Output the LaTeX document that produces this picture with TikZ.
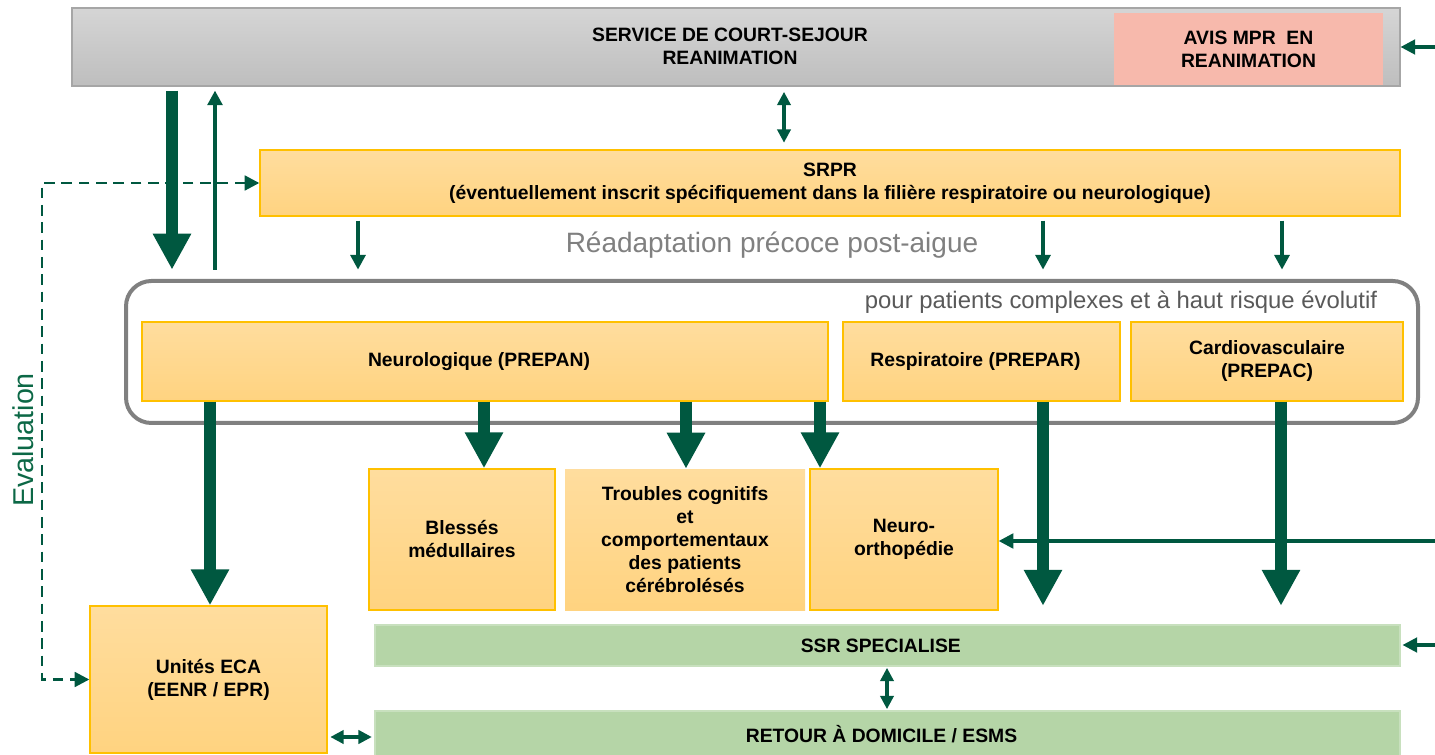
\documentclass[tikz,border=0pt]{standalone}
\usepackage{fontspec}
\setmainfont{Liberation Sans}
\usetikzlibrary{arrows.meta}
\definecolor{dg}{RGB}{0,88,64}
\definecolor{evalg}{RGB}{12,104,70}
\definecolor{or1}{RGB}{255,221,158}
\definecolor{or2}{RGB}{255,211,128}
\definecolor{orb}{RGB}{255,192,0}
\definecolor{gr1}{RGB}{213,213,213}
\definecolor{gr2}{RGB}{190,190,190}
\definecolor{grb}{RGB}{166,166,166}
\definecolor{pinkf}{RGB}{247,185,172}
\definecolor{grn}{RGB}{181,213,167}
\definecolor{grnb}{RGB}{200,224,190}
\definecolor{framec}{RGB}{128,128,128}
\definecolor{txtg}{RGB}{89,89,89}
\begin{document}
\begin{tikzpicture}[x=0.75pt,y=-0.75pt,
  box/.style={inner sep=0pt, align=center, font=\bfseries\fontsize{14.5}{17.25}\selectfont},
  sz/.style 2 args={minimum width=#1*0.75pt, minimum height=#2*0.75pt},
  obox/.style={box, draw=orb, line width=1pt, top color=or1, bottom color=or2},
  onobox/.style={box, top color=or1, bottom color=or2},
  gbox/.style={box, draw=grnb, line width=0.8pt, fill=grn},
  big/.style={draw=dg, line width=9pt, -{Triangle[width=27pt,length=27pt]}},
  thinarr/.style={draw=dg, line width=3pt, -{Triangle[width=11pt,length=11pt]}},
  lightarr/.style={draw=dg, line width=2.3pt, -{Triangle[width=11pt,length=11pt]}},
  dblarr/.style={draw=dg, line width=2.3pt, {Triangle[width=10pt,length=10pt]}-{Triangle[width=10pt,length=10pt]}},
  dasharr/.style={draw=dg, line width=2.1pt, dash pattern=on 8pt off 5pt, {Triangle[width=11pt,length=11pt]}-{Triangle[width=11pt,length=11pt]}}
]
\useasboundingbox (0,0) rectangle (1435,755);

% top
\node[box, draw=grb, line width=0.8pt, top color=gr1, bottom color=gr2, sz={1328}{78}] (top) at (736,47) {};
\node[box] (toptext) at (730,46.5) {SERVICE DE COURT-SEJOUR\\REANIMATION};
\node[box, fill=pinkf, sz={269}{72}] (avis) at (1248.5,49) {AVIS MPR~~EN\\REANIMATION};

% SRPR
\node[obox, sz={1140}{66}] (srpr) at (830,183) {SRPR\\(éventuellement inscrit spécifiquement dans la filière respiratoire ou neurologique)};
\node[text=framec, font=\fontsize{21}{25}\selectfont, inner sep=0pt] (readapt) at (772,245) {Réadaptation précoce post-aigue};

% frame
\node[draw=framec, line width=3pt, rounded corners=19pt, inner sep=0pt, sz={1292}{142}] (frame) at (772,352) {};
\node[text=txtg, font=\fontsize{17.9}{21}\selectfont, inner sep=0pt] (pour) at (1121,302) {pour patients complexes et à haut risque évolutif};

\node[obox, sz={686}{79}] (neuro) at (485,361.5) {Neurologique (PREPAN)\hspace*{9pt}};
\node[obox, sz={277}{79}] (resp) at (981.5,361.5) {Respiratoire (PREPAR)\hspace*{9pt}};
\node[obox, sz={272}{79}] (cardio) at (1267,361.5) {Cardiovasculaire\\(PREPAC)\hspace*{0pt}};

% lower boxes
\node[obox, sz={186}{141}] (bless) at (462,539.5) {Blessés\\médullaires};
\node[onobox, sz={240}{141}] (troub) at (685,539.5) {Troubles cognitifs\\et\\comportementaux\\des patients\\cérébrolésés};
\node[obox, sz={188}{141}] (northo) at (904,539.5) {Neuro-\\orthopédie};
\node[obox, sz={237}{147}] (eca) at (208.5,679.5) {Unités ECA\\(EENR / EPR)};
\node[gbox, sz={1025}{41}] (ssr) at (887.5,645.5) {SSR SPECIALISE\hspace*{10pt}};
\node[gbox, sz={1025}{47}] (retour) at (887.5,734.5) {RETOUR À DOMICILE / ESMS\hspace*{9pt}};

% evaluation
\coordinate (evalc) at (42,430);
\node[text=evalg, font=\fontsize{21.5}{25}\selectfont, rotate=90, inner sep=0pt] (evaltxt) at (23,440) {Evaluation};
\draw[dasharr] (srpr.west) -| (evalc) |- (eca.west);

% arrows top
\draw[big, shorten <=3pt, shorten >=7pt] (top.south -| 172,0) -- (frame.north -| 172,0);
\draw[thinarr, line width=3.4pt, shorten <=7pt, shorten >=3pt] (frame.north -| 215,0) -- (top.south -| 215,0);
\draw[dblarr, shorten <=4pt, shorten >=5pt] (top.south -| 784,0) -- (srpr.north -| 784,0);
\coordinate (r1) at (1435,47);
\draw[lightarr] (r1) -- (r1 -| top.east);

% srpr down
\foreach \xx in {358,1043,1282}{
  \draw[thinarr, shorten <=3pt, shorten >=7pt] (srpr.south -| \xx,0) -- (frame.north -| \xx,0);
}

% neuro down
\draw[big] (neuro.south -| 210,0) -- (eca.north -| 210,0);
\draw[big] (neuro.south -| 484,0) -- (bless.north -| 484,0);
\draw[big] (neuro.south -| 686,0) -- (troub.north -| 686,0);
\draw[big] (neuro.south -| 820,0) -- (northo.north -| 820,0);
\draw[big, shorten >=14pt] (resp.south -| 1043,0) -- (ssr.north -| 1043,0);
\draw[big, shorten >=14pt] (cardio.south -| 1281,0) -- (ssr.north -| 1281,0);

% right edge arrows
\coordinate (r2) at (1435,541);
\draw[lightarr] (r2) -- (r2 -| northo.east);
\coordinate (r3) at (1435,645);
\draw[lightarr, shorten >=1.5pt] (r3) -- (r3 -| ssr.east);

% bottom double arrows
\draw[dblarr, shorten <=1pt, shorten >=1pt] (ssr.south -| 887,0) -- (retour.north -| 887,0);
\draw[dblarr, shorten <=2pt, shorten >=2pt] (eca.east |- 0,737) -- (retour.west |- 0,737);
\end{tikzpicture}
\end{document}
